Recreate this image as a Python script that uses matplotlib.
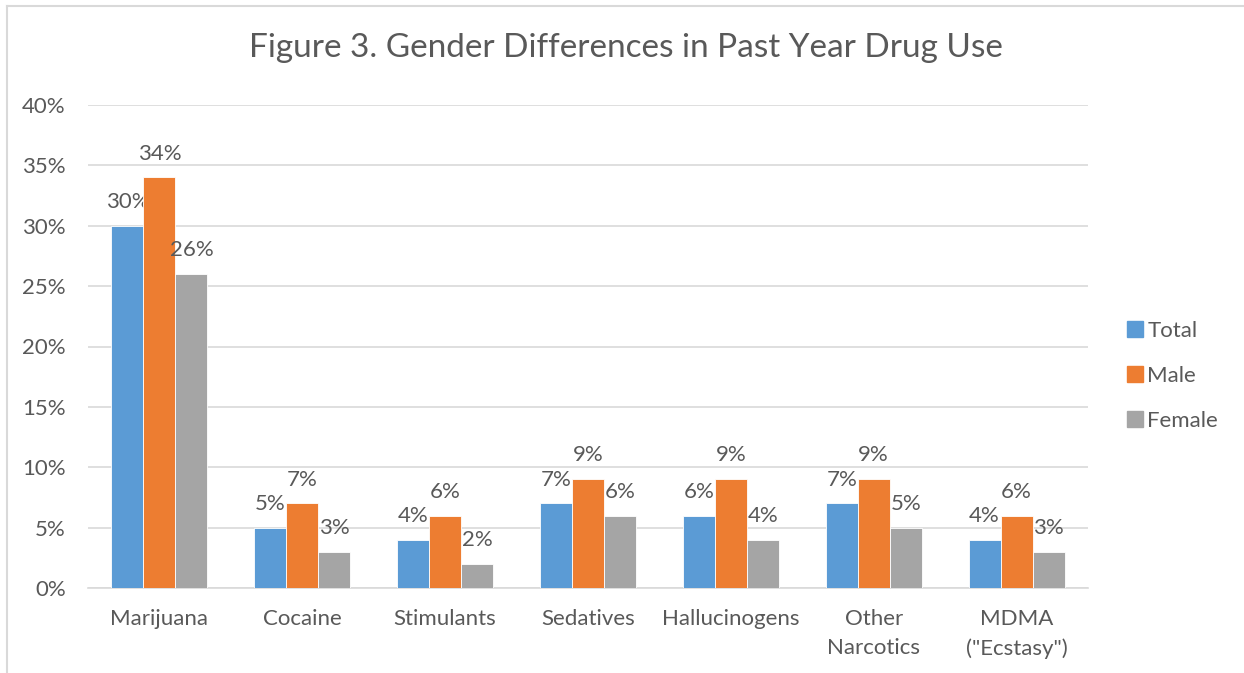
import numpy as np
import matplotlib.pyplot as plt
from matplotlib.lines import Line2D

# Data ::
categories = ["Marijuana", "Cocaine", "Stimulants", "Sedatives", "Hallucinogens",
              "Other\nNarcotics", "MDMA\n(\"Ecstasy\")"]
total = [30, 5, 4, 7, 6, 7, 4]
male = [34, 7, 6, 9, 9, 9, 6]
female = [26, 3, 2, 6, 4, 5, 3]
series_names = ["Total", "Male", "Female"]
colors = ["#5B9BD5", "#ED7D31", "#A5A5A5"]
yticks = [0, 5, 10, 15, 20, 25, 30, 35, 40]

txt = "#595959"
plt.rcParams['font.family'] = ['Lato', 'DejaVu Sans']

fig = plt.figure(figsize=(12.44, 6.73), dpi=100)
ax = fig.add_axes([88/1244, 1 - 588/673, 1000/1244, 483/673])

x = np.arange(len(categories))
w = 0.224
for i, (vals, name, c) in enumerate(zip([total, male, female], series_names, colors)):
    pos = x + (i - 1) * w
    ax.bar(pos, vals, w, color=c, edgecolor="white", linewidth=0.6, label=name, zorder=3)
    for p, v in zip(pos, vals):
        ax.annotate(f"{v}%", (p, v), xytext=(0, 10), textcoords="offset points",
                    ha="center", va="bottom", fontsize=16, color=txt)

ax.set_xlim(-0.5, len(categories) - 0.5)
ax.set_ylim(0, 40)
ax.set_yticks(yticks)
ax.set_yticklabels([f"{t}%" for t in yticks], fontsize=16, color=txt)
ax.set_xticks(x)
ax.set_xticklabels(categories, fontsize=16, color=txt, linespacing=1.55)
ax.tick_params(length=0)
ax.tick_params(axis="y", pad=16)
ax.tick_params(axis="x", pad=15)
ax.grid(axis="y", color="#D9D9D9", linewidth=1.2, zorder=0)
for s in ["top", "right", "left"]:
    ax.spines[s].set_visible(False)
ax.spines["bottom"].set_color("#D9D9D9")
ax.spines["bottom"].set_linewidth(1.2)

fig.text(626/1244, 1 - 48/673, "Figure 3. Gender Differences in Past Year Drug Use",
         ha="center", va="center", fontsize=24, color=txt)

handles = [Line2D([], [], marker="s", linestyle="none", markersize=11,
                  markerfacecolor=c, markeredgecolor=c) for c in colors]
fig.legend(handles, series_names, loc="center left", bbox_to_anchor=(1104/1244, 1 - 376/673),
           frameon=False, fontsize=16, labelcolor=txt, handletextpad=0.05,
           labelspacing=1.12, handlelength=1.0)

# chart border
fig.add_artist(Line2D([7/1244, 7/1244], [0, 1 - 6/673], transform=fig.transFigure,
                      color="#D9D9D9", linewidth=1.5))
fig.add_artist(Line2D([7/1244, 1], [1 - 6/673, 1 - 6/673], transform=fig.transFigure,
                      color="#D9D9D9", linewidth=1.5))

fig.savefig("out.png", dpi=100, facecolor="white")
